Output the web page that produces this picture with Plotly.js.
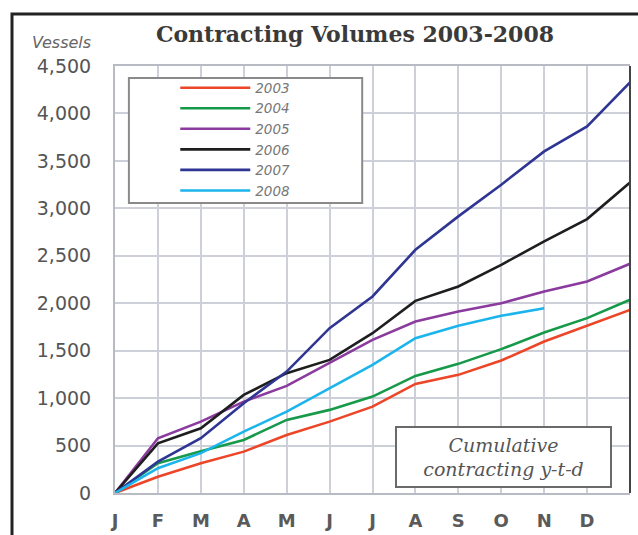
<!DOCTYPE html>
<html>
<head>
<meta charset="utf-8">
<script src="https://cdn.plot.ly/plotly-3.0.1.min.js"></script>
<style>
  html, body { margin: 0; padding: 0; background: #fff; }
  #chart { width: 638px; height: 535px; }
</style>
</head>
<body>
<div id="chart"></div>
<script>
// month positions (0 = Jan start, 12 = year end) and their labels
const monthIndex = [0, 1, 2, 3, 4, 5, 6, 7, 8, 9, 10, 11, 12];
const monthLabels = ['J', 'F', 'M', 'A', 'M', 'J', 'J', 'A', 'S', 'O', 'N', 'D'];

// cumulative contracting, vessels
const v2003 = [0, 172, 313, 436, 612, 752, 910, 1150, 1245, 1396, 1596, 1762, 1930];
const v2004 = [0, 313, 440, 559, 770, 876, 1016, 1234, 1361, 1516, 1691, 1843, 2036];
const v2005 = [0, 577, 752, 963, 1129, 1368, 1614, 1807, 1913, 2000, 2124, 2229, 2416];
const v2006 = [0, 524, 682, 1034, 1263, 1403, 1684, 2025, 2176, 2405, 2651, 2887, 3273];
const v2007 = [0, 330, 577, 946, 1280, 1737, 2071, 2563, 2915, 3249, 3600, 3864, 4328];
const v2008 = [0, 261, 420, 647, 858, 1104, 1350, 1632, 1762, 1867, 1948];

const yTicks = [0, 500, 1000, 1500, 2000, 2500, 3000, 3500, 4000, 4500];

function series(name, y, color) {
    return {
        x: monthIndex.slice(0, y.length),
        y: y,
        name: name,
        type: 'scatter',
        mode: 'lines',
        line: {color: color, width: 2.6}
    };
}

var data = [
    series('2003', v2003, '#ec4527'),
    series('2004', v2004, '#17994a'),
    series('2005', v2005, '#8b3a9e'),
    series('2006', v2006, '#1e1e1e'),
    series('2007', v2007, '#2f3593'),
    series('2008', v2008, '#1bb5ec')
];

var gridColor = '#cdd0d8';

var layout = {
    width: 638,
    height: 535,
    margin: {l: 115, r: 8, t: 66, b: 42},
    paper_bgcolor: '#fff',
    plot_bgcolor: '#fff',
    title: {
        text: 'Contracting Volumes 2003-2008',
        font: {family: 'DejaVu Serif', size: 22, weight: 'bold', color: '#3a3a3a'},
        xref: 'paper', x: 0.466, xanchor: 'center',
        yref: 'container', y: 0.935, yanchor: 'middle'
    },
    xaxis: {
        range: [0, 12],
        tickvals: monthIndex.slice(0, 12),
        ticktext: monthLabels,
        showgrid: true,
        gridcolor: gridColor,
        gridwidth: 2,
        zeroline: false,
        showline: true,
        linecolor: '#b8bbc4',
        linewidth: 2,
        mirror: true,
        ticks: '',
        ticklabelstandoff: 10,
        tickfont: {family: 'DejaVu Sans', size: 18, weight: 'bold', color: '#5a5a5a'},
        fixedrange: true
    },
    yaxis: {
        range: [0, 4500],
        tickvals: yTicks,
        tickformat: ',d',
        showgrid: true,
        gridcolor: gridColor,
        gridwidth: 2,
        zeroline: false,
        showline: true,
        linecolor: '#b8bbc4',
        linewidth: 2,
        ticks: '',
        ticklabelstandoff: 18,
        tickfont: {family: 'DejaVu Sans', size: 19, color: '#555'},
        fixedrange: true
    },
    showlegend: true,
    legend: {
        x: 0.117, xanchor: 'left',
        y: 0.985, yanchor: 'top',
        bgcolor: 'rgba(0,0,0,0)',
        borderwidth: 0,
        itemwidth: 70,
        font: {family: 'DejaVu Sans', size: 13.5, style: 'italic', color: '#777'}
    },
    shapes: [
        // legend box
        {type: 'rect', xref: 'paper', yref: 'paper',
         x0: 0.027, x1: 0.48, y0: 0.679, y1: 0.972,
         fillcolor: '#fff', line: {color: '#8a8a8a', width: 2}, layer: 'above'},
        // dark right edge of plot
        {type: 'line', xref: 'paper', yref: 'paper',
         x0: 1, x1: 1, y0: 0, y1: 1,
         line: {color: '#444', width: 2}},
        // outer frame
        {type: 'rect', xref: 'paper', yref: 'paper',
         x0: -0.2, x1: 1.07, y0: -0.15, y1: 1.1218,
         line: {color: '#222', width: 3}}
    ],
    annotations: [
        {text: 'Vessels', xref: 'paper', yref: 'paper',
         x: -0.165, xanchor: 'left', y: 1.054, yanchor: 'middle',
         showarrow: false,
         font: {family: 'DejaVu Sans', size: 16, style: 'italic', color: '#666'}},
        {text: 'Cumulative<br>contracting y-t-d', xref: 'paper', yref: 'paper',
         x: 0.754, xanchor: 'center', y: 0.084, yanchor: 'middle',
         showarrow: false, align: 'center',
         width: 211, height: 56,
         bgcolor: '#fff', bordercolor: '#6a6a6a', borderwidth: 2, borderpad: 1,
         font: {family: 'DejaVu Serif', size: 19, style: 'italic', color: '#555'}}
    ]
};

Plotly.newPlot('chart', data, layout, {displayModeBar: false, staticPlot: true});
</script>
</body>
</html>
